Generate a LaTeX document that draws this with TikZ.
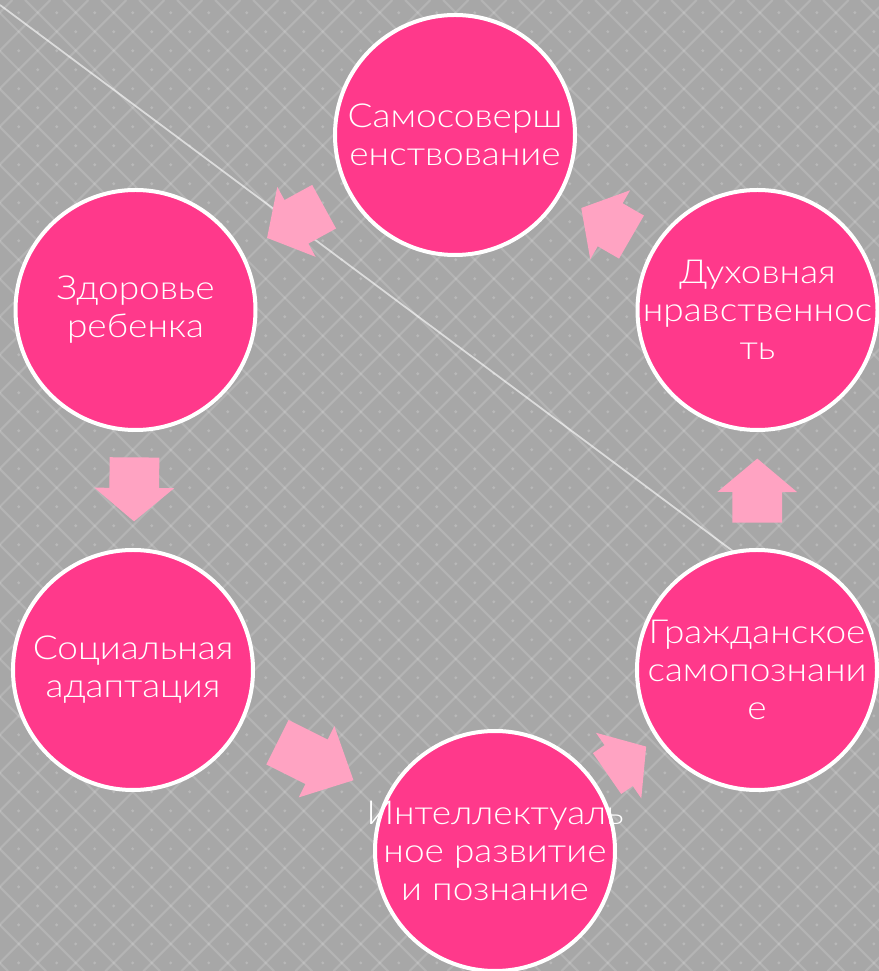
\documentclass[tikz,border=0pt]{standalone}
\usepackage{fontspec}
\setmainfont{Lato Light}[FakeStretch=1.12]
\usetikzlibrary{shapes.arrows}
\definecolor{bggray}{HTML}{A7A7A7}
\definecolor{circpink}{HTML}{FF398B}
\definecolor{arrowpink}{HTML}{FFA3C2}
\tikzset{
  stage/.style={circle,fill=circpink,draw=white,line width=0.08cm,
    minimum size=4.8cm,inner sep=-1.2cm,text=white,align=center,
    font=\fontsize{18.8}{21.6}\selectfont},
  blockarrow/.style={single arrow,fill=arrowpink,draw=none,
    inner xsep=0pt,inner ysep=0.49cm,
    minimum height=#1,single arrow head extend=0.3cm,
    single arrow head indent=0pt,single arrow tip angle=100,
    sloped,allow upside down,anchor=center},
  blockarrow/.default=1.28cm,
  gridline/.style={white,opacity=0.15,line width=1.2pt},
}
\begin{document}
\begin{tikzpicture}
  \useasboundingbox (0,0) rectangle (17.58,19.42);

  % Background
  \begin{scope}[x=0.02cm,y=-0.02cm,yshift=19.42cm]
    \fill[bggray] (0,0) rectangle (879,971);
    \clip (0,0) rectangle (879,971);
    \foreach \k in {-26,...,23}
      \draw[gridline] ({25+38*\k},0) -- ++(971,971);
    \foreach \k in {0,...,49}
      \draw[gridline] ({12.4+38*\k},0) -- ++(-971,971);
    \foreach \i in {0,...,23}
      \foreach \j in {0,...,25}{
        \fill[white,opacity=0.2] ({18.7+38*\i},{12.7+38*\j}) circle (1.6);
        \fill[white,opacity=0.2] ({37.7+38*\i},{31.7+38*\j}) circle (1.6);
      }
    \draw[white,opacity=0.6,line width=1pt] (0,5) -- (879,660);
  \end{scope}

  % Stages
  \node[stage] (self)      at (9.10,16.72)  {Самосоверш\\енствование};
  \node[stage] (health)    at (2.71,13.22)  {Здоровье\\ребенка};
  \node[stage] (social)    at (2.66,6.02)   {Социальная\\адаптация};
  \node[stage] (intellect) at (9.90,2.40)   {Интеллектуаль\\ное развитие\\и познание};
  \node[stage] (civic)     at (15.14,6.02)  {Гражданское\\самопознани\\е};
  \node[stage] (moral)     at (15.15,13.22) {Духовная\\нравственнос\\ть};

  % Arrows
  \path (self) -- node[blockarrow=1.30cm,pos=0.41] (a1) {} (health);
  \path (health) -- node[blockarrow,pos=0.405] (a2) {} (social);
  \path (social) -- node[blockarrow=1.70cm,single arrow tip angle=88,pos=0.43] (a3) {} (intellect);
  \path (intellect) -- node[blockarrow=0.95cm,pos=0.37] (a4) {} (civic);
  \path (civic) -- node[blockarrow,pos=0.405] (a5) {} (moral);
  \path (moral) -- node[blockarrow=1.16cm,pos=0.40] (a6) {} (self);
\end{tikzpicture}
\end{document}
